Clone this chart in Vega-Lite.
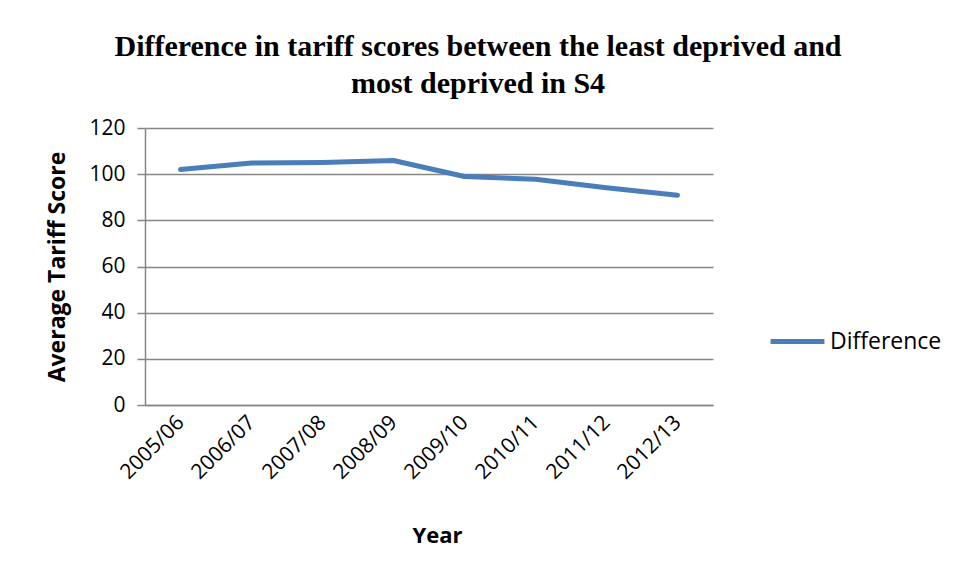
{
  "$schema": "https://vega.github.io/schema/vega-lite/v6.json",
  "autosize": "none",
  "width": 568,
  "height": 277,
  "padding": {"left": 145, "top": 128, "right": 243, "bottom": 180},
  "background": "white",
  "title": {
    "text": ["Difference in tariff scores between the least deprived and", "most deprived in S4"],
    "font": "Liberation Serif",
    "fontSize": 30,
    "fontWeight": "bold",
    "color": "black",
    "lineHeight": 37,
    "anchor": "middle",
    "dx": 49,
    "offset": 18
  },
  "data": {
    "values": [
      {"year": "2005/06", "series": "Difference", "score": 102.0},
      {"year": "2006/07", "series": "Difference", "score": 104.8},
      {"year": "2007/08", "series": "Difference", "score": 105.1},
      {"year": "2008/09", "series": "Difference", "score": 105.9},
      {"year": "2009/10", "series": "Difference", "score": 99.0},
      {"year": "2010/11", "series": "Difference", "score": 97.8},
      {"year": "2011/12", "series": "Difference", "score": 94.1},
      {"year": "2012/13", "series": "Difference", "score": 90.9}
    ]
  },
  "mark": {"type": "line", "strokeWidth": 5, "strokeCap": "round", "strokeJoin": "round"},
  "encoding": {
    "x": {
      "field": "year", "type": "ordinal", "title": "Year",
      "scale": {"paddingInner": 0, "paddingOuter": 0.5},
      "axis": {
        "labelAngle": -45, "labelAlign": "right", "labelBaseline": "middle",
        "labelFont": "Open Sans", "labelFontSize": 21, "labelColor": "black",
        "labelPadding": 14,
        "ticks": false, "domainColor": "#868686", "domainWidth": 1.5,
        "titleFont": "Open Sans", "titleFontSize": 22, "titleFontWeight": "bold", "titleColor": "black",
        "titleX": 292, "titleY": 130, "titleBaseline": "middle"
      }
    },
    "y": {
      "field": "score", "type": "quantitative", "title": "Average Tariff Score",
      "scale": {"domain": [0, 120]},
      "axis": {
        "values": [0, 20, 40, 60, 80, 100, 120],
        "labelFont": "Open Sans", "labelFontSize": 21, "labelColor": "black",
        "labelPadding": 12,
        "tickSize": 8, "tickColor": "#868686", "tickWidth": 1.5,
        "domainColor": "#868686", "domainWidth": 1.5,
        "grid": true, "gridColor": "#868686", "gridWidth": 1.5,
        "titleFont": "Open Sans", "titleFontSize": 23, "titleFontWeight": "bold", "titleColor": "black",
        "titlePadding": 19
      }
    },
    "color": {
      "field": "series", "type": "nominal", "title": null,
      "scale": {"range": ["#4A7EBB"]},
      "legend": {
        "orient": "none", "legendX": 623, "legendY": 184,
        "symbolType": "stroke", "symbolSize": 2900, "symbolStrokeWidth": 5,
        "labelFont": "Open Sans", "labelFontSize": 23, "labelColor": "black",
        "labelOffset": 3
      }
    }
  },
  "config": {"view": {"stroke": null}}
}
